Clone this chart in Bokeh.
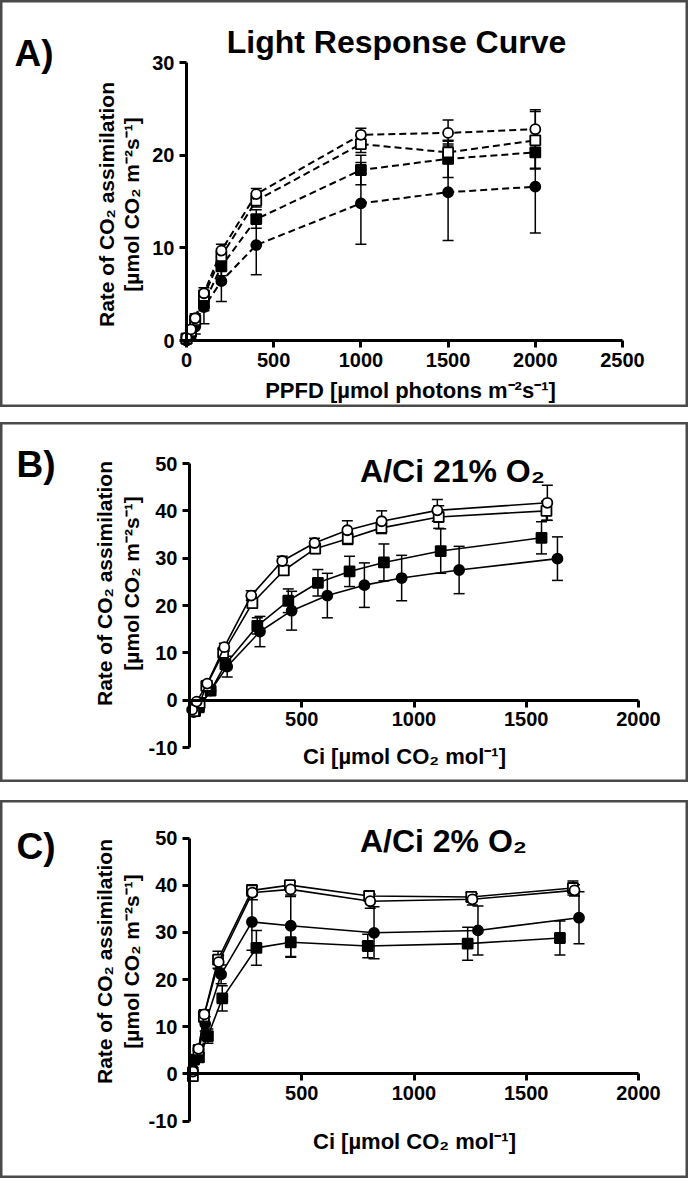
import math
from bokeh.plotting import figure
from bokeh.models import (Range1d, FixedTicker, Whisker, TeeHead, ColumnDataSource,
                          Label, Spacer, PrintfTickFormatter)
from bokeh.layouts import column
from bokeh.embed import file_html
from bokeh.resources import INLINE

# ---------------- data ----------------
# Panel A: light response
a_ppfd = [0, 25, 50, 100, 200, 400, 1000, 1500, 2000]
a_fc = [0.0, 0.6, 1.5, 3.6, 6.4, 10.3, 14.8, 16.0, 16.6]
a_fc_err = [0.2, 0.4, 0.8, 1.8, 2.2, 3.2, 4.4, 5.2, 5.0]
a_fs = [0.2, 0.9, 2.0, 4.0, 8.0, 13.1, 18.4, 19.6, 20.3]
a_fs_err = [0.2, 0.4, 0.6, 0.8, 1.0, 1.0, 1.6, 2.0, 1.7]
a_oc = [0.3, 1.2, 2.4, 5.1, 9.7, 15.8, 22.2, 22.4, 22.8]
a_oc_err = [0.2, 0.3, 0.5, 0.6, 0.7, 0.6, 0.7, 1.4, 2.1]
a_os = [0.2, 1.0, 2.2, 4.8, 9.1, 15.1, 21.2, 20.3, 21.6]
a_os_err = [0.2, 0.3, 0.5, 0.6, 0.8, 0.7, 0.9, 1.2, 3.1]

# Panel B: A/Ci 21% O2
b_fc_x = [19, 42, 94, 168, 314, 455, 614, 779, 945, 1201, 1639]
b_fc = [-2.5, -1.5, 2.0, 7.1, 14.5, 18.9, 22.1, 24.3, 25.8, 27.5, 29.9]
b_fc_err = [0.4, 0.5, 0.6, 2.2, 3.2, 4.1, 4.7, 4.7, 4.8, 5.0, 4.6]
b_fs_x = [25, 42, 94, 160, 302, 440, 572, 713, 866, 1119, 1568]
b_fs = [-2.3, -1.5, 2.0, 7.6, 15.7, 21.0, 24.8, 27.2, 29.1, 31.5, 34.3]
b_fs_err = [0.4, 0.5, 0.6, 1.0, 1.7, 2.5, 2.8, 3.2, 3.9, 4.7, 3.4]
b_oc_x = [12, 32, 79, 155, 275, 413, 557, 703, 856, 1104, 1594]
b_oc = [-2.0, -0.3, 3.5, 11.2, 22.1, 29.4, 33.2, 35.9, 37.8, 40.1, 41.7]
b_oc_err = [0.3, 0.4, 0.6, 0.8, 1.0, 1.0, 1.0, 2.0, 2.2, 2.3, 3.7]
b_os_x = [20, 45, 75, 150, 280, 420, 560, 705, 855, 1110, 1590]
b_os = [-2.3, -0.6, 3.0, 10.0, 20.5, 27.4, 32.0, 34.1, 36.4, 38.7, 40.0]
b_os_err = [0.3, 0.4, 0.5, 0.8, 1.0, 1.0, 1.0, 1.2, 1.2, 2.4, 2.0]

# Panel C: A/Ci 2% O2
c_fc_x = [15, 40, 70, 141, 278, 451, 822, 1285, 1735]
c_fc = [1.0, 5.0, 10.6, 21.1, 32.2, 31.4, 29.9, 30.4, 33.1]
c_fc_err = [0.3, 0.8, 1.5, 2.0, 6.0, 6.5, 5.5, 5.2, 5.5]
c_fs_x = [20, 42, 82, 146, 298, 451, 794, 1239, 1650]
c_fs = [3.0, 3.5, 8.0, 16.0, 26.7, 27.9, 27.1, 27.6, 28.8]
c_fs_err = [0.8, 1.0, 1.5, 2.7, 3.7, 3.2, 2.5, 3.5, 3.6]
c_oc_x = [15, 40, 66, 130, 280, 450, 805, 1260, 1715]
c_oc = [0.5, 5.3, 12.6, 23.7, 38.4, 39.1, 36.6, 37.0, 38.9]
c_oc_err = [0.3, 0.8, 1.0, 1.5, 1.5, 1.5, 1.5, 1.2, 1.2]
c_os_x = [15, 40, 64, 127, 278, 447, 800, 1255, 1708]
c_os = [-0.5, 5.0, 12.2, 24.2, 38.9, 40.0, 37.7, 37.5, 39.4]
c_os_err = [0.3, 0.8, 1.2, 1.8, 1.2, 0.8, 1.0, 1.0, 1.5]

a_xticks = [0, 500, 1000, 1500, 2000, 2500]
a_yticks = [0, 10, 20, 30]
bc_xticks = [500, 1000, 1500, 2000]
bc_yticks = [-10, 0, 10, 20, 30, 40, 50]

y_label_1 = "Rate of CO\u2082 assimilation"
y_label_2 = "[\u00b5mol CO\u2082 m\u207b\u00b2s\u207b\u00b9]"
a_xlabel = "PPFD [\u00b5mol photons m\u207b\u00b2s\u207b\u00b9]"
ci_label = "Ci [\u00b5mol CO\u2082 mol\u207b\u00b9]"

FONT = "Liberation Sans"
W = 688


class Panel:
    """Figure whose frame fills the whole panel; axes sit at fixed data locations."""

    def __init__(self, H, xpix, xval, ypix, yval, xbounds, ybounds, xticks, yticks, printf=False):
        sx = (xval[1] - xval[0]) / (xpix[1] - xpix[0])
        xmin = xval[0] - xpix[0] * sx
        sy = (yval[1] - yval[0]) / (ypix[0] - ypix[1])
        ymax = yval[1] + ypix[1] * sy
        self.xmin, self.sx, self.ymax, self.sy = xmin, sx, ymax, sy
        p = figure(width=W, height=H,
                   x_range=Range1d(xmin, xmin + W * sx),
                   y_range=Range1d(ymax - H * sy, ymax),
                   output_backend="svg", toolbar_location=None,
                   min_border=0)
        p.grid.visible = False
        p.outline_line_color = "#4a4a4a"
        p.outline_line_width = 4
        p.background_fill_color = "white"
        p.border_fill_color = "white"
        p.xaxis.ticker = FixedTicker(ticks=xticks)
        p.yaxis.ticker = FixedTicker(ticks=yticks)
        p.xaxis.fixed_location = 0
        p.yaxis.fixed_location = 0
        p.xaxis.bounds = xbounds
        p.yaxis.bounds = ybounds
        if printf:
            p.yaxis.formatter = PrintfTickFormatter(format="%d")
        for ax in (p.xaxis[0], p.yaxis[0]):
            ax.axis_line_width = 3
            ax.axis_line_color = "black"
            ax.major_tick_line_width = 3
            ax.major_tick_line_color = "black"
            ax.major_tick_out = 7
            ax.major_tick_in = 0
            ax.minor_tick_line_color = None
            ax.major_label_text_font = FONT
            ax.major_label_text_font_style = "bold"
            ax.major_label_text_font_size = "20px"
            ax.major_label_text_color = "black"
            ax.major_label_standoff = 5
        self.p = p

    def data(self, px, py):
        return self.xmin + px * self.sx, self.ymax - py * self.sy

    def text(self, px, py, text, size, align="left", baseline="alphabetic", angle=0.0):
        x, y = self.data(px, py)
        self.p.add_layout(Label(x=x, y=y, text=text, text_font=FONT, text_font_style="bold",
                                text_font_size=size, text_color="black", angle=angle,
                                text_align=align, text_baseline=baseline))

    def series(self, x, y, err, marker, filled, dashed, size=10):
        src = ColumnDataSource(dict(x=x, y=y,
                                    lo=[v - e for v, e in zip(y, err)],
                                    hi=[v + e for v, e in zip(y, err)]))
        w = Whisker(source=src, base="x", lower="lo", upper="hi", dimension="height",
                    line_width=1.5, line_color="black",
                    upper_head=TeeHead(size=11, line_width=1.5, line_color="black"),
                    lower_head=TeeHead(size=11, line_width=1.5, line_color="black"),
                    level="underlay")
        self.p.add_layout(w)
        if dashed:
            self.p.line("x", "y", source=src, line_width=2, line_color="black", line_dash="7 4")
        else:
            self.p.line("x", "y", source=src, line_width=1.6, line_color="black")
        self.p.scatter("x", "y", source=src, marker=marker, size=size,
                       fill_color="black" if filled else "white",
                       line_color="black", line_width=1.8)


# ---------------- Panel A ----------------
A = Panel(407, (186, 622), (0, 2500), (340, 62), (0, 30), (0, 2500), (0, 30), a_xticks, a_yticks)
for xs, ys, es, mk, fl in [(a_ppfd, a_fc, a_fc_err, "circle", True),
                           (a_ppfd, a_fs, a_fs_err, "square", True),
                           (a_ppfd, a_os, a_os_err, "square", False),
                           (a_ppfd, a_oc, a_oc_err, "circle", False)]:
    A.series(xs, ys, es, mk, fl, True)
A.text(14, 53, "A)", "37px")
A.text(396, 41, "Light Response Curve", "32px", align="center")
A.text(410, 390, a_xlabel, "22px", align="center", baseline="middle")
A.text(106, 204, y_label_1, "21px", align="center", baseline="middle", angle=math.pi / 2)
A.text(131, 204, y_label_2, "21px", align="center", baseline="middle", angle=math.pi / 2)

# ---------------- Panel B ----------------
B = Panel(360, (189, 638), (0, 2000), (325, 41), (-10, 50), (0, 2000), (-10, 50),
          bc_xticks, bc_yticks, printf=True)
for xs, ys, es, mk, fl in [(b_fc_x, b_fc, b_fc_err, "circle", True),
                           (b_fs_x, b_fs, b_fs_err, "square", True),
                           (b_os_x, b_os, b_os_err, "square", False),
                           (b_oc_x, b_oc, b_oc_err, "circle", False)]:
    B.series(xs, ys, es, mk, fl, False)
B.text(16, 42, "B)", "37px")
B.text(452, 48, "A/Ci 21% O\u2082", "32px", align="center")
B.text(404, 334, ci_label, "22px", align="center", baseline="middle")
B.text(104, 161, y_label_1, "21px", align="center", baseline="middle", angle=math.pi / 2)
B.text(131, 161, y_label_2, "21px", align="center", baseline="middle", angle=math.pi / 2)

# ---------------- Panel C ----------------
C = Panel(378, (189, 638), (0, 2000), (320.5, 37.5), (-10, 50), (0, 2000), (-10, 50),
          bc_xticks, bc_yticks, printf=True)
for xs, ys, es, mk, fl in [(c_fc_x, c_fc, c_fc_err, "circle", True),
                           (c_fs_x, c_fs, c_fs_err, "square", True),
                           (c_os_x, c_os, c_os_err, "square", False),
                           (c_oc_x, c_oc, c_oc_err, "circle", False)]:
    C.series(xs, ys, es, mk, fl, False)
C.text(16, 46, "C)", "37px")
C.text(443, 40, "A/Ci 2% O\u2082", "32px", align="center")
C.text(414, 341, ci_label, "22px", align="center", baseline="middle")
C.text(104, 161, y_label_1, "21px", align="center", baseline="middle", angle=math.pi / 2)
C.text(131, 161, y_label_2, "21px", align="center", baseline="middle", angle=math.pi / 2)

layout = column(A.p, Spacer(height=15), B.p, Spacer(height=18), C.p)
open("out.html", "w").write(file_html(layout, INLINE))
